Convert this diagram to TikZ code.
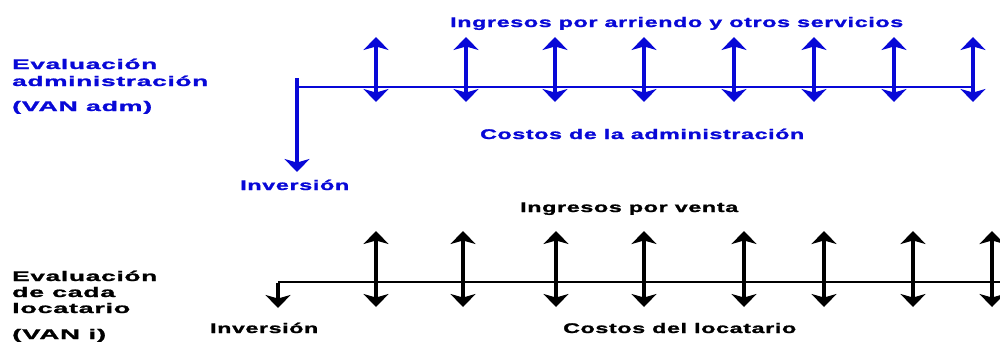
\documentclass[tikz,border=0pt]{standalone}
\usepackage{fontspec}
\setmainfont{Liberation Sans}
\newfontfamily\labfont{Liberation Sans}[LetterSpace=3,FakeBold=1.2]
\usepackage{graphicx}
\usetikzlibrary{arrows.meta}
\definecolor{cfblue}{RGB}{8,8,215}
\definecolor{cfblack}{RGB}{0,0,0}
\newlength\fitlen
\newcommand\fitw[2]{\settowidth\fitlen{#2}\scalebox{\fpeval{#1/\fitlen}}[1]{#2}}
\tikzset{
  lab/.style={anchor=base west, inner sep=0pt, font=\labfont\bfseries\fontsize{14}{16}\selectfont},
  tipk/.tip={Stealth[length=13pt,width=25pt,inset=3.5pt]},
  flow/.style={line width=3.3pt, tipk-tipk},
  down/.style={line width=3.3pt, -tipk},
  axis/.style={line width=2.2pt},
}
\begin{document}
\begin{tikzpicture}[x=1pt,y=-1pt]
\useasboundingbox (0,0) rectangle (1000,343);
% ---------- top (blue) ----------
\begin{scope}[color=cfblue]
\node[lab] (evA1) at (12,69) {\fitw{145}{Evaluación}};
\node[lab] (evA2) at (12,86) {\fitw{196}{administración}};
\node[lab] (evA3) at (12,111) {\fitw{140}{(VAN adm)}};
\node[lab] (ingA) at (450,27) {\fitw{453}{Ingresos por arriendo y otros servicios}};
\node[lab] (cosA) at (480,139) {\fitw{324}{Costos de la administración}};
\node[lab] (invA) at (240,190) {\fitw{109}{Inversión}};
\coordinate (A0top) at (297,78);
\coordinate (A0) at (297,87);
\coordinate (A0bot) at (297,172);
\coordinate (Aend) at (973,87);
\draw[axis] (A0) -- (Aend);
\draw[down] (A0top) -- (A0bot);
\foreach \i/\x in {1/376,2/466,3/555,4/644,5/734,6/814,7/894,8/973}{
  \coordinate (At\i) at (\x,37);
  \coordinate (Ab\i) at (\x,102);
  \draw[flow] (Ab\i) -- (At\i);
}
\end{scope}
% ---------- bottom (black) ----------
\begin{scope}[color=cfblack]
\node[lab] (evB1) at (12,281) {\fitw{145}{Evaluación}};
\node[lab] (evB2) at (12,297) {\fitw{103}{de cada}};
\node[lab] (evB3) at (12,313) {\fitw{118}{locatario}};
\node[lab] (evB4) at (12,339) {\fitw{94}{(VAN i)}};
\node[lab] (ingB) at (520,212) {\fitw{218}{Ingresos por venta}};
\node[lab] (cosB) at (563,333) {\fitw{233}{Costos del locatario}};
\node[lab] (invB) at (210,333) {\fitw{108}{Inversión}};
\coordinate (B0) at (278,282);
\coordinate (B0bot) at (278,308);
\coordinate (Bend) at (1000,282);
\draw[axis] (B0) -- (Bend);
\draw[down] ([yshift=-1pt]B0) -- (B0bot);
\foreach \i/\x in {1/376,2/463,3/556,4/644,5/744,6/824,7/913,8/992}{
  \coordinate (Bt\i) at (\x,231);
  \coordinate (Bb\i) at (\x,307);
  \draw[flow] (Bb\i) -- (Bt\i);
}
\end{scope}
\end{tikzpicture}
\end{document}
